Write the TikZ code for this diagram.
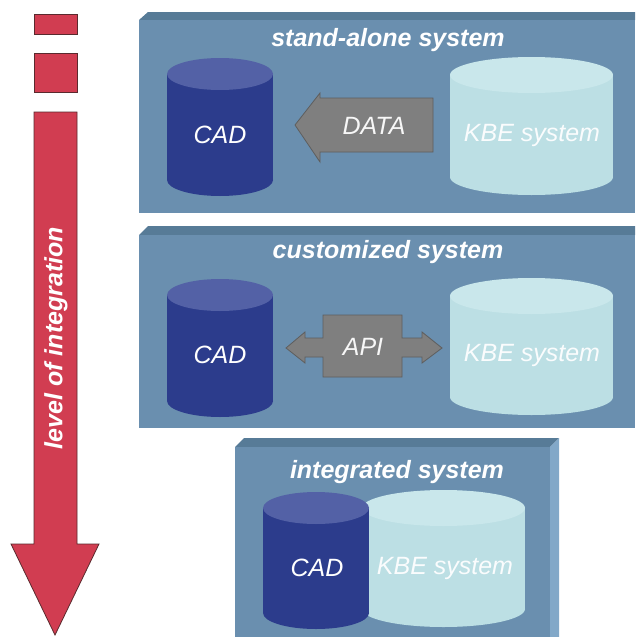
\documentclass[tikz,border=0pt]{standalone}
\usepackage{fontspec}
\setmainfont{Liberation Sans}
\definecolor{panelfront}{HTML}{6A8FAF}
\definecolor{paneltop}{HTML}{577B97}
\definecolor{panelside}{HTML}{82A8C8}
\definecolor{cadbody}{HTML}{2C3C8C}
\definecolor{cadtop}{HTML}{5361A6}
\definecolor{kbebody}{HTML}{BCDFE4}
\definecolor{kbetop}{HTML}{C9E7EB}
\definecolor{arrowgray}{HTML}{7F7F7F}
\definecolor{arrowshadow}{HTML}{5E5E5E}
\definecolor{redarrow}{HTML}{D13D51}
\definecolor{redline}{HTML}{5A2A2E}
\newcommand{\dbcyl}[7]{%
  \fill[#6] (#1,{#3+#5}) rectangle (#2,{#4-#5});
  \fill[#6] ({(#1+#2)/2},{#4-#5}) ellipse ({(#2-#1)/2} and #5);
  \fill[#7] ({(#1+#2)/2},{#3+#5}) ellipse ({(#2-#1)/2} and #5);
}
\tikzset{
  titletext/.style={text=white, font=\fontsize{25}{28}\selectfont\bfseries\itshape, inner sep=0pt},
  labeltext/.style={text=white, font=\fontsize{25}{28}\selectfont\itshape, inner sep=0pt},
  kbetext/.style={text=white!92!kbebody, font=\fontsize{25}{28}\selectfont\itshape, inner sep=0pt},
  redshape/.style={fill=redarrow, draw=redline, line width=0.8pt},
  grayshape/.style={fill=arrowgray, draw=arrowshadow, line width=0.8pt},
}
\begin{document}
\begin{tikzpicture}[x=1pt,y=-1pt]
\useasboundingbox (0,0) rectangle (635,637);
\fill[white] (0,0) rectangle (635,637);
% red arrow
\draw[redshape] (34,14) rectangle (77,34);
\draw[redshape] (34,53) rectangle (77,92);
\draw[redshape] (34,112) -- (77,112) -- (77,544) -- (99,544) -- (55,635) -- (11,544) -- (34,544) -- cycle;
\node[titletext, rotate=90] (lvl) at (56,338) {level of integration};
% panel 1
\fill[paneltop] (139,20) -- (148,12) -- (635,12) -- (635,20) -- cycle;
\fill[panelfront] (139,20) rectangle (635,213);
\node[titletext] (t1) at (388,40) {stand-alone system};
\dbcyl{167}{273}{58}{196}{16}{cadbody}{cadtop}
\dbcyl{450}{613}{57}{195}{18}{kbebody}{kbetop}
\node[labeltext] (cad1) at (220,135) {CAD};
\node[kbetext] (kbe1) at (532,135) {KBE system};
\draw[grayshape] (433,98) -- (320,98) -- (320,93) -- (295,125) -- (320,162) -- (320,152) -- (433,152) -- cycle;
\node[labeltext, text=white!94!arrowgray] (data) at (374,126) {DATA};
% panel 2
\fill[paneltop] (139,235) -- (148,226) -- (635,226) -- (635,235) -- cycle;
\fill[panelfront] (139,235) rectangle (635,428);
\node[titletext] (t2) at (388,252) {customized system};
\dbcyl{167}{273}{279}{417}{16}{cadbody}{cadtop}
\dbcyl{450}{613}{278}{415}{18}{kbebody}{kbetop}
\node[labeltext] (cad2) at (220,355) {CAD};
\node[kbetext] (kbe2) at (532,355) {KBE system};
\draw[grayshape] (286,348) -- (305,332) -- (305,338) -- (323,338) -- (323,315) -- (402,315) -- (402,338) -- (422,338) -- (422,332) -- (442,348) -- (422,363) -- (422,357) -- (402,357) -- (402,377) -- (323,377) -- (323,357) -- (305,357) -- (305,363) -- cycle;
\node[labeltext, text=white!94!arrowgray] (api) at (363,347) {API};
% panel 3
\fill[paneltop] (235,447) -- (244,438) -- (559,438) -- (550,447) -- cycle;
\fill[panelside] (550,447) -- (559,438) -- (559,637) -- (550,637) -- cycle;
\fill[panelfront] (235,447) rectangle (550,637);
\node[titletext] (t3) at (397,472) {integrated system};
\dbcyl{362}{525}{490}{627}{18}{kbebody}{kbetop}
\dbcyl{263}{369}{492}{629}{16}{cadbody}{cadtop}
\node[labeltext] (cad3) at (317,568) {CAD};
\node[kbetext] (kbe3) at (445,568) {KBE system};
\end{tikzpicture}
\end{document}
